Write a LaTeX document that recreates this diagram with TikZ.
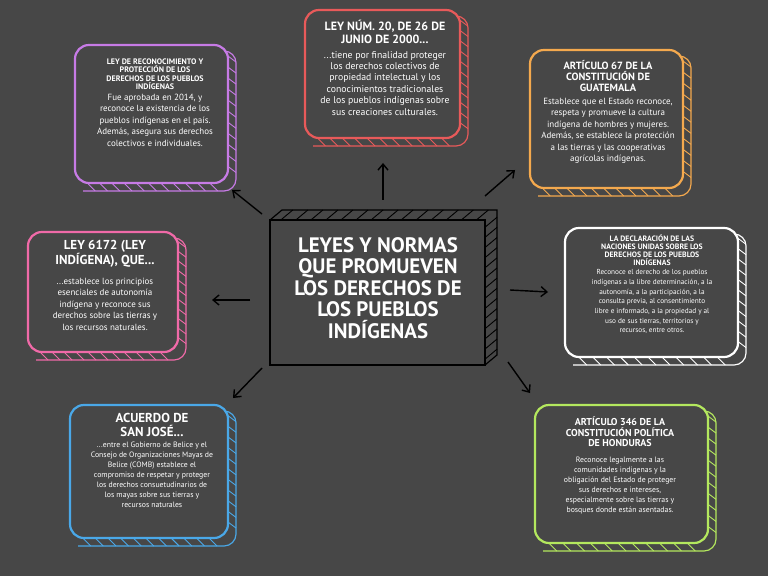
\documentclass[tikz,border=0pt]{standalone}
\usepackage{fontspec}
\setmainfont{PT Sans}
\usetikzlibrary{arrows.meta,calc,positioning}
\definecolor{bg}{HTML}{474747}
\definecolor{cpur}{HTML}{C77BE6}
\definecolor{cred}{HTML}{E85A5A}
\definecolor{cora}{HTML}{F4A94E}
\definecolor{cpink}{HTML}{F06AA8}
\definecolor{cblue}{HTML}{4AA8E8}
\definecolor{cgreen}{HTML}{B4E85E}
\tikzset{
  boxframe/.style={line width=2.2pt, rounded corners=14pt},
  ttl/.style={align=center, text=white, inner sep=1bp},
  bdy/.style={align=center, text=white, inner sep=1bp},
  arr/.style={-{Straight Barb[length=6pt,width=10pt]}, line width=1.4pt, black}
}
\newcommand{\sketchbox}[5]{% x1 y1 x2 y2 color
  \draw[#5, line width=1.2pt, rounded corners=12pt] (#1+8,#2+6) -- (#3+8,#2+6) -- (#3+8,#4+8) -- (#1+8,#4+8);
  \foreach \t in {0.08,0.16,...,0.95}{
    \draw[#5, line width=0.9pt] ($(#3,#2)!\t!(#3,#4)$) -- ++(8,6);
    \draw[#5, line width=0.9pt] ($(#1,#4)!\t!(#3,#4)$) -- ++(8,8);
  }
  \draw[boxframe,#5,fill=bg] (#1,#2) rectangle (#3,#4);
}
\newcommand{\ttlfont}[2]{\bfseries\fontsize{#1}{#2}\selectfont}
\newcommand{\bdyfont}[2]{\fontsize{#1}{#2}\selectfont}
\begin{document}
\begin{tikzpicture}[x=1bp,y=-1bp]
\fill[bg] (0,0) rectangle (768,576);
\useasboundingbox (0,0) rectangle (768,576);

% boxes
\sketchbox{75}{45}{228}{183}{cpur}
\sketchbox{305}{10}{460}{138}{cred}
\sketchbox{530}{50}{683}{188}{cora}
\sketchbox{28}{232}{178}{352}{cpink}
\sketchbox{565}{228}{738}{357}{white}
\sketchbox{70}{405}{228}{538}{cblue}
\sketchbox{535}{405}{708}{543}{cgreen}

% center box
\draw[black,line width=1.2pt] (270,220) -- (282,210) -- (497,210) -- (497,355) -- (485,365);
\foreach \t in {0.05,0.12,...,0.98}{
  \draw[black,line width=0.9pt] ($(270,220)!\t!(485,220)$) -- ++(12,-10);
  \draw[black,line width=0.9pt] ($(485,220)!\t!(485,365)$) -- ++(12,-10);
}
\draw[black,line width=1.6pt,fill=bg] (270,220) rectangle (485,365);
\node[ttl, font=\ttlfont{21}{21.5}] (c) at (378,288)
 {LEYES Y NORMAS\\QUE PROMUEVEN\\LOS DERECHOS DE\\LOS PUEBLOS\\IND\'IGENAS};

% texts
\node[ttl, font=\ttlfont{8}{8.5}] (t1) at (155,74)
 {LEY DE RECONOCIMIENTO Y\\PROTECCI\'ON DE LOS\\DERECHOS DE LOS PUEBLOS\\IND\'IGENAS};
\node[bdy, font=\bdyfont{9}{11.5}, below=2bp of t1] (b1) {Fue aprobada en 2014, y\\reconoce la existencia de los\\pueblos ind\'igenas en el pa\'is.\\Adem\'as, asegura sus derechos\\colectivos e individuales.};

\node[ttl, font=\ttlfont{12}{13}] (t2) at (385,32)
 {LEY N\'UM. 20, DE 26 DE\\JUNIO DE 2000...};
\node[bdy, font=\bdyfont{9.8}{11.5}, below=5bp of t2] (b2) {...tiene por finalidad proteger\\los derechos colectivos de\\propiedad intelectual y los\\conocimientos tradicionales\\de los pueblos ind\'igenas sobre\\sus creaciones culturales.};

\node[ttl, font=\ttlfont{10.5}{11}] (t3) at (608,76)
 {ART\'ICULO 67 DE LA\\CONSTITUCI\'ON DE\\GUATEMALA};
\node[bdy, font=\bdyfont{9}{11.5}, below=4bp of t3] (b3) {Establece que el Estado reconoce,\\respeta y promueve la cultura\\ind\'igena de hombres y mujeres.\\Adem\'as, se establece la protecci\'on\\a las tierras y las cooperativas\\agr\'icolas ind\'igenas.};

\node[ttl, font=\ttlfont{13}{13.5}] (t4) at (105,254)
 {LEY 6172 (LEY\\IND\'IGENA), QUE...};
\node[bdy, font=\bdyfont{9}{11.5}, below=8bp of t4] (b4) {...establece los principios\\esenciales de autonom\'ia\\ind\'igena y reconoce sus\\derechos sobre las tierras y\\los recursos naturales.};

\node[ttl, font=\ttlfont{7.8}{8}] (t5) at (652,250)
 {LA DECLARACI\'ON DE LAS\\NACIONES UNIDAS SOBRE LOS\\DERECHOS DE LOS PUEBLOS\\IND\'IGENAS};
\node[bdy, font=\bdyfont{7.3}{9.7}, below=2bp of t5] (b5) {Reconoce el derecho de los pueblos\\ind\'igenas a la libre determinaci\'on, a la\\autonom\'ia, a la participaci\'on, a la\\consulta previa, al consentimiento\\libre e informado, a la propiedad y al\\uso de sus tierras, territorios y\\recursos, entre otros.};

\node[ttl, font=\ttlfont{13}{13.5}] (t6) at (152,425)
 {ACUERDO DE\\SAN JOS\'E...};
\node[bdy, font=\bdyfont{7.8}{10}, below=3bp of t6] (b6) {...entre el Gobierno de Belice y el\\Consejo de Organizaciones Mayas de\\Belice (COMB) establece el\\compromiso de respetar y proteger\\los derechos consuetudinarios de\\los mayas sobre sus tierras y\\recursos naturales};

\node[ttl, font=\ttlfont{10}{10.5}] (t7) at (620,432)
 {ART\'ICULO 346 DE LA\\CONSTITUCI\'ON POL\'ITICA\\DE HONDURAS};
\node[bdy, font=\bdyfont{7.8}{10}, below=8bp of t7] (b7) {Reconoce legalmente a las\\comunidades ind\'igenas y la\\obligaci\'on del Estado de proteger\\sus derechos e intereses,\\especialmente sobre las tierras y\\bosques donde est\'an asentadas.};

% arrows
\coordinate (a1s) at (262,214); \coordinate (a1e) at (232,190);
\coordinate (a2s) at (383,200); \coordinate (a2e) at (383,163);
\coordinate (a3s) at (485,196); \coordinate (a3e) at (515,170);
\coordinate (a4s) at (250,300); \coordinate (a4e) at (212,300);
\coordinate (a5s) at (510,290); \coordinate (a5e) at (548,292);
\coordinate (a6s) at (262,368); \coordinate (a6e) at (233,398);
\coordinate (a7s) at (508,362); \coordinate (a7e) at (530,393);
\foreach \i in {1,...,7}{\draw[arr] (a\i s) -- (a\i e);}
\end{tikzpicture}
\end{document}
